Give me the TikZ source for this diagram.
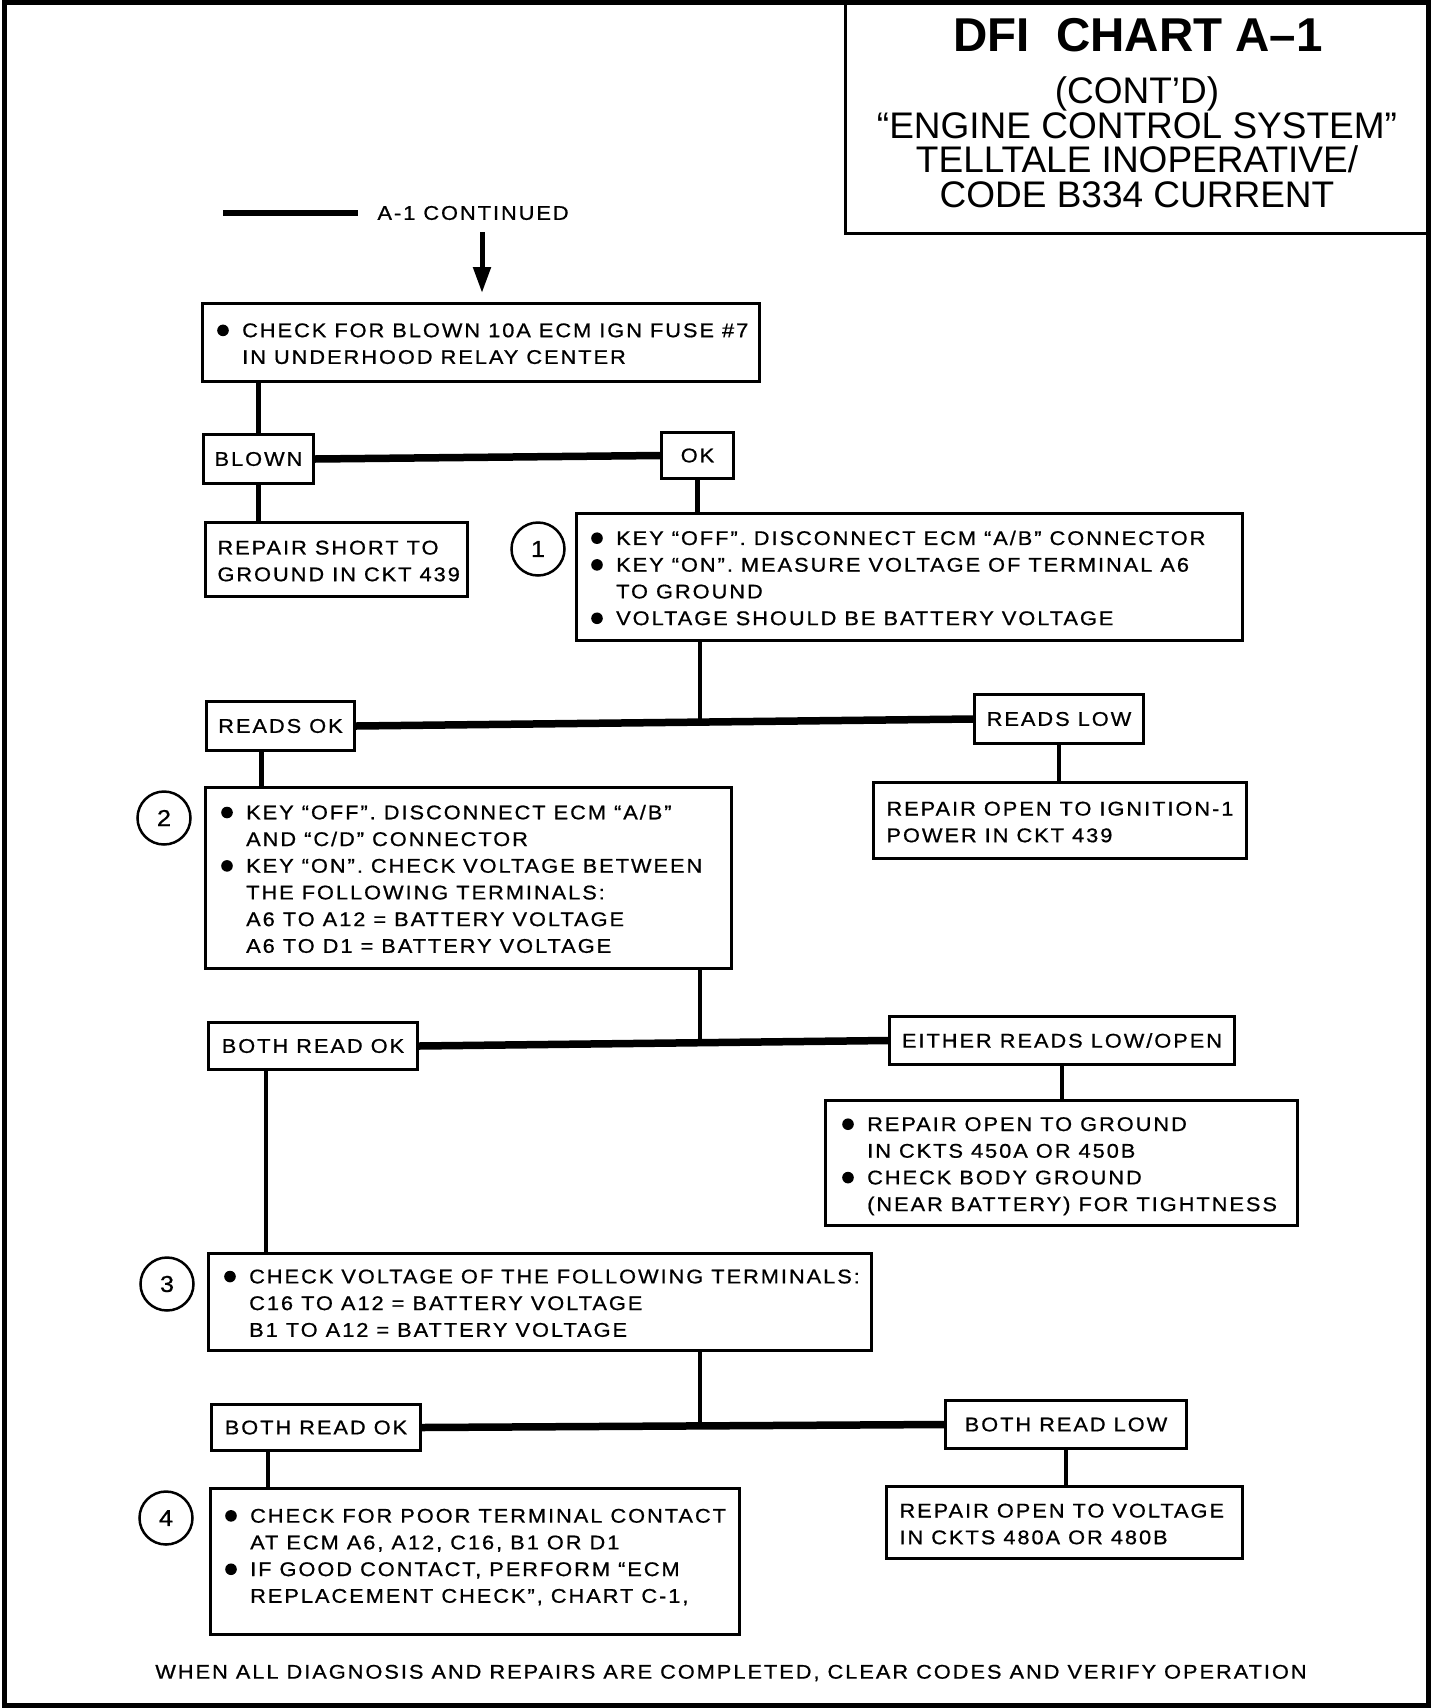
\documentclass[tikz,border=0pt]{standalone}
\usepackage{fontspec}
\usepackage{tikz}
\usetikzlibrary{arrows.meta}
\newfontfamily\chartfont[FakeStretch=1.1,LetterSpace=10,FakeBold=0.8]{Liberation Sans}
\newfontfamily\titlefont{Liberation Sans}
\newcommand{\bul}{\makebox[25pt][l]{\tikz[baseline=-6.8pt]\fill (5.5pt,0pt) circle[radius=5.8pt];}}
\newcommand{\ind}{\hspace*{25pt}}
\newcommand{\boxtext}[2]{\makebox[#1][l]{\raisebox{-3pt}[\height][\depth]{\begin{tabular}{@{}l@{}}#2\end{tabular}}}}

\begin{document}
\begin{tikzpicture}[x=1pt,y=-1pt,line width=3pt]
  \tikzstyle{textbox}=[draw, anchor=north west, inner xsep=15pt, inner ysep=0pt, font=\chartfont\fontsize{19.8pt}{26.7pt}\selectfont]
  \tikzstyle{answer}=[draw, anchor=north west, inner sep=0pt, font=\chartfont\fontsize{19.8pt}{26.7pt}\selectfont]
  \tikzstyle{num}=[circle, draw, line width=2.5pt, minimum size=53pt, inner sep=0pt, font=\chartfont\fontsize{23pt}{23pt}\selectfont]
  \tikzstyle{branch}=[line width=7.5pt]
  \tikzstyle{link}=[line width=4.5pt]
  \useasboundingbox (0,0) rectangle (1456,1708);

  % frame and title
  \draw[line width=5pt] (4,2.5) rectangle (1428,1705.5);
  \draw (845,2) -- (845,233) -- (1428,233);
  \node[font=\titlefont\bfseries\fontsize{47.5pt}{47.5pt}\selectfont] (title) at (1138,35) {DFI\ \ CHART A–1};
  \node[align=center, font=\titlefont\fontsize{37pt}{34.5pt}\selectfont] (subtitle) at (1137,142.5)
    {(CONT’D)\\“ENGINE CONTROL SYSTEM”\\TELLTALE INOPERATIVE/\\CODE B334 CURRENT};

  % entry
  \coordinate (barstart) at (223,213);
  \coordinate (arrowtop) at (482,232);
  \node[anchor=west, inner sep=0pt, font=\chartfont\fontsize{19.8pt}{26pt}\selectfont] (cont) at (376,213) {A-1 CONTINUED};
  \draw[line width=6pt] (barstart) -- ([xshift=-18pt]cont.west);

  % boxes
  \node[textbox, minimum height=78pt] (fuse) at (202,303)
    {\boxtext{527pt}{\bul CHECK FOR BLOWN 10A ECM IGN FUSE \#7\\ \ind IN UNDERHOOD RELAY CENTER}};
  \node[answer, minimum width=110pt, minimum height=49pt] (blown) at (202,433) {BLOWN};
  \node[answer, minimum width=72pt, minimum height=46pt] (ok) at (660,431) {OK};
  \node[textbox, inner xsep=12pt, minimum height=74pt] (repshort) at (204,521)
    {\boxtext{238pt}{REPAIR SHORT TO\\ GROUND IN CKT 439}};
  \node[num] (num1) at (538,549) {1};
  \node[textbox, minimum height=127pt] (keyoff) at (576,513)
    {\boxtext{636pt}{\bul KEY “OFF”. DISCONNECT ECM “A/B” CONNECTOR\\
      \bul KEY “ON”. MEASURE VOLTAGE OF TERMINAL A6\\
      \ind TO GROUND\\
      \bul VOLTAGE SHOULD BE BATTERY VOLTAGE}};
  \node[answer, minimum width=148pt, minimum height=49pt] (readsok) at (205,700) {READS OK};
  \node[answer, minimum width=169pt, minimum height=49pt] (readslow) at (973,693) {READS LOW};
  \node[textbox, inner xsep=13pt, minimum height=76pt] (repign) at (872,781)
    {\boxtext{347pt}{REPAIR OPEN TO IGNITION-1\\ POWER IN CKT 439}};
  \node[num] (num2) at (164,818) {2};
  \node[textbox, inner xsep=16pt, minimum height=181pt] (keycheck) at (205,787)
    {\boxtext{494pt}{\bul KEY “OFF”. DISCONNECT ECM “A/B”\\
      \ind AND “C/D” CONNECTOR\\
      \bul KEY “ON”. CHECK VOLTAGE BETWEEN\\
      \ind THE FOLLOWING TERMINALS:\\
      \ind A6 TO A12 = BATTERY VOLTAGE\\
      \ind A6 TO D1 = BATTERY VOLTAGE}};
  \node[answer, minimum width=209pt, minimum height=47pt] (bothok) at (207,1021) {BOTH READ OK};
  \node[answer, minimum width=345pt, minimum height=48pt] (either) at (888,1015) {EITHER READS LOW/OPEN};
  \node[textbox, inner xsep=17pt, minimum height=125pt] (repgnd) at (825,1100)
    {\boxtext{438pt}{\bul REPAIR OPEN TO GROUND\\
      \ind IN CKTS 450A OR 450B\\
      \bul CHECK BODY GROUND\\
      \ind (NEAR BATTERY) FOR TIGHTNESS}};
  \node[num] (num3) at (167,1284) {3};
  \node[textbox, inner xsep=16pt, minimum height=97pt] (termcheck) at (208,1253)
    {\boxtext{631pt}{\bul CHECK VOLTAGE OF THE FOLLOWING TERMINALS:\\
      \ind C16 TO A12 = BATTERY VOLTAGE\\
      \ind B1 TO A12 = BATTERY VOLTAGE}};
  \node[answer, minimum width=209pt, minimum height=46pt] (bothok2) at (210,1403) {BOTH READ OK};
  \node[answer, minimum width=241pt, minimum height=48pt] (bothlow) at (944,1399) {BOTH READ LOW};
  \node[textbox, inner xsep=13pt, minimum height=72pt] (repvolt) at (885,1485)
    {\boxtext{330pt}{REPAIR OPEN TO VOLTAGE\\ IN CKTS 480A OR 480B}};
  \node[num] (num4) at (166,1518) {4};
  \node[textbox, minimum height=146pt] (contact) at (210,1488)
    {\boxtext{499pt}{\bul CHECK FOR POOR TERMINAL CONTACT\\
      \ind AT ECM A6, A12, C16, B1 OR D1\\
      \bul IF GOOD CONTACT, PERFORM “ECM\\
      \ind REPLACEMENT CHECK”, CHART C-1,\\[-13pt] \mbox{}}};
  \node[font=\chartfont\fontsize{19.8pt}{26pt}\selectfont] (note) at (731,1673)
    {WHEN ALL DIAGNOSIS AND REPAIRS ARE COMPLETED, CLEAR CODES AND VERIFY OPERATION};

  % connectors
  \coordinate (spine) at (700,0);
  \coordinate (k2top) at ([xshift=-19pt]readsok.south);
  \coordinate (k3top) at ([xshift=-47pt]bothok.south);
  \coordinate (k4top) at ([xshift=-48pt]bothok2.south);
  \draw[line width=5pt, -{Triangle[width=17pt,length=26pt]}, shorten >=10pt] (arrowtop) -- (arrowtop |- fuse.north);
  \draw[link] (blown.north |- fuse.south) -- (blown.north);
  \draw[branch] (blown.east) -- (ok.west);
  \draw[link] (blown.south) -- (blown.south |- repshort.north);
  \draw[link] (ok.south) -- (ok.south |- keyoff.north);
  \draw[link] (keyoff.south -| spine) -- (spine |- readsok.east);
  \draw[branch] (readsok.east) -- (readslow.west);
  \draw[link] (readslow.south) -- (readslow.south |- repign.north);
  \draw[link] (k2top) -- (k2top |- keycheck.north);
  \draw[link] (keycheck.south -| spine) -- (spine |- bothok.east);
  \draw[branch] (bothok.east) -- (either.west);
  \draw[link] (either.south) -- (either.south |- repgnd.north);
  \draw[link] (k3top) -- (k3top |- termcheck.north);
  \draw[link] (termcheck.south -| spine) -- (spine |- bothok2.east);
  \draw[branch] (bothok2.east) -- (bothlow.west);
  \draw[link] (bothlow.south) -- (bothlow.south |- repvolt.north);
  \draw[link] (k4top) -- (k4top |- contact.north);
\end{tikzpicture}
\end{document}
